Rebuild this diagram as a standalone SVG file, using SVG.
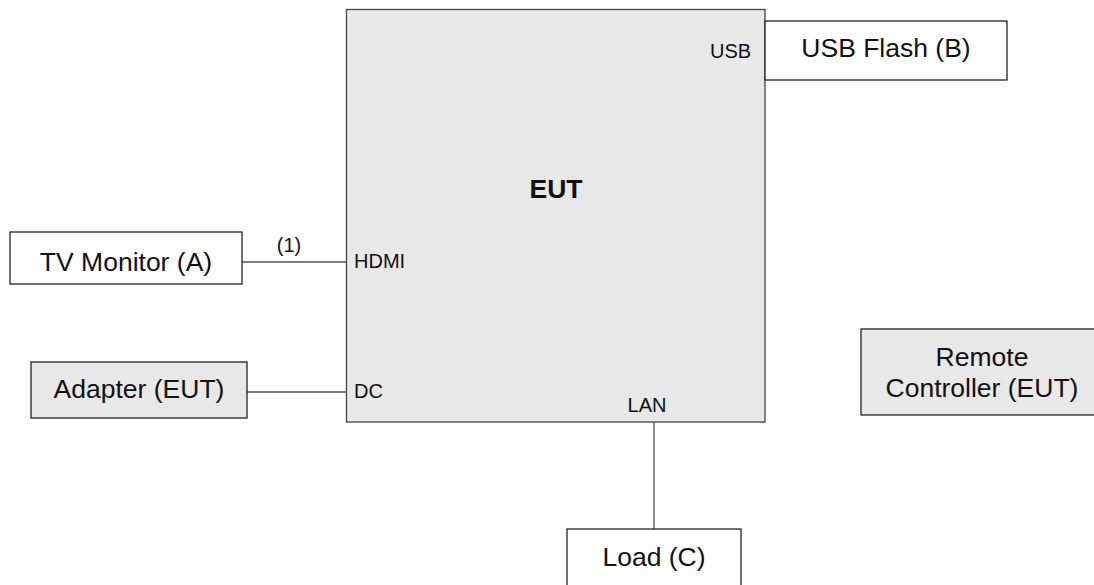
<svg xmlns="http://www.w3.org/2000/svg" width="1094" height="585" viewBox="0 0 1094 585">
<style>
.box{stroke:#222;stroke-width:1.3;}
.w{fill:#fff;}
.g{fill:#e8e8e8;}
.t{font-family:"Liberation Sans",Arial,sans-serif;font-size:26.5px;fill:#111;text-anchor:middle;}
.p{font-family:"Liberation Sans",Arial,sans-serif;font-size:20px;fill:#111;}
.c{stroke:#555;stroke-width:1.3;fill:none;}
</style>
<rect width="1094" height="585" fill="#fff"/>
<g id="connectors">
<line class="c" x1="242" y1="262" x2="346" y2="262"/>
<line class="c" x1="247" y1="392" x2="346" y2="392"/>
<line class="c" x1="654" y1="422" x2="654" y2="529"/>
<text class="p" x="289" y="252" text-anchor="middle">(1)</text>
</g>
<g id="eut">
<rect x="346.5" y="9.5" width="418.5" height="412.5" fill="#e8e8e8" stroke="#444" stroke-width="1.3"/>
<text class="t" x="556" y="198" font-weight="bold" font-size="26">EUT</text>
<text class="p" x="710" y="58">USB</text>
<text class="p" x="354" y="268">HDMI</text>
<text class="p" x="354" y="398">DC</text>
<text class="p" x="647" y="412" text-anchor="middle">LAN</text>
</g>
<g id="usbflash">
<rect class="box w" x="765" y="21" width="242" height="59"/>
<text class="t" x="886" y="57">USB Flash (B)</text>
</g>
<g id="tvmonitor">
<rect class="box w" x="10" y="232" width="232" height="52"/>
<text class="t" x="126" y="271">TV Monitor (A)</text>
</g>
<g id="adapter">
<rect class="box g" x="31" y="362" width="216" height="56"/>
<text class="t" x="139" y="398">Adapter (EUT)</text>
</g>
<g id="remote">
<rect class="box g" x="861" y="329" width="245" height="86"/>
<text class="t" x="982" y="366">Remote</text>
<text class="t" x="982" y="397">Controller (EUT)</text>
</g>
<g id="load">
<rect class="box w" x="567" y="529" width="174" height="60"/>
<text class="t" x="654" y="566">Load (C)</text>
</g>
</svg>
